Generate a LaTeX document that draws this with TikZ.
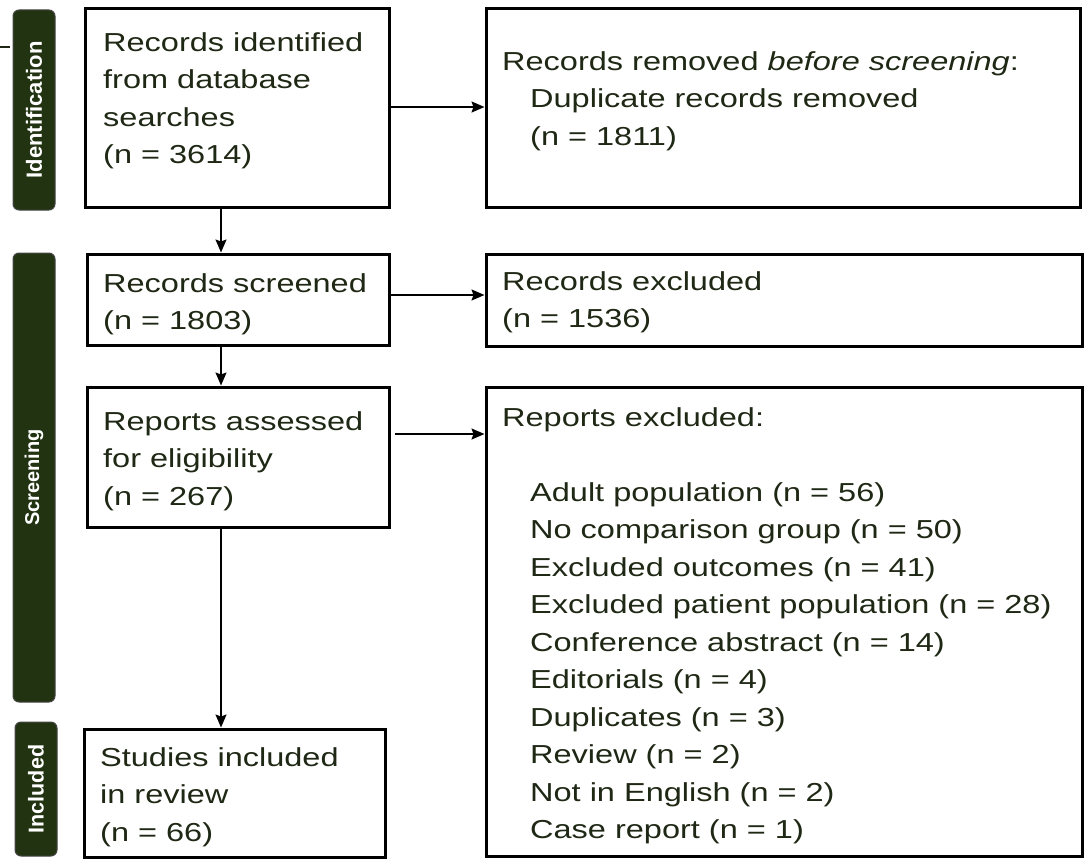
\documentclass[tikz,border=0pt]{standalone}
\usepackage{fontspec}
\setmainfont{Liberation Sans}[FakeStretch=1.25]
\newfontfamily\barfont{Liberation Sans}
\usetikzlibrary{arrows.meta}
\definecolor{txt}{RGB}{30,40,20}
\definecolor{barfill}{RGB}{34,51,17}
\definecolor{barline}{RGB}{70,70,70}
\tikzset{
  box/.style={draw=black, line width=3pt, fill=white, inner sep=0pt},
  boxtext/.style={anchor=north west, inner sep=0pt, align=left, text=txt,
    font=\fontsize{26}{37.5}\selectfont},
  bar/.style={draw=barline, line width=1pt, fill=barfill, rounded corners=6pt, inner sep=0pt},
  barlabel/.style={rotate=90, text=white, inner sep=0pt},
  arr/.style={line width=1.5pt, -{Stealth[length=13pt,width=11pt,inset=2pt]}},
}
\begin{document}
\begin{tikzpicture}[x=1pt,y=-1pt]
\path[use as bounding box] (0,0) rectangle (1084,859);

% phase bars
\node[bar, minimum width=42pt, minimum height=200pt] (barI) at (34,110) {};
\node[barlabel, font=\barfont\bfseries\fontsize{22}{24}\selectfont] (labI) at (barI.center) {Identification};
\node[bar, minimum width=42pt, minimum height=449pt] (barS) at (34,477.5) {};
\node[barlabel, font=\barfont\bfseries\fontsize{20}{22}\selectfont] (labS) at (barS.center) {Screening};
\node[bar, minimum width=42pt, minimum height=134pt] (barC) at (36,789) {};
\node[barlabel, font=\barfont\bfseries\fontsize{21.5}{23}\selectfont] (labC) at (barC.center) {Included};

% small line at top left
\coordinate (tl0) at (0,47);
\coordinate (tl1) at (10,47);
\draw[line width=1.5pt, color=txt] (tl0) -- (tl1);

% boxes
\node[box, minimum width=304pt, minimum height=198pt] (b1) at (237,108) {};
\node[box, minimum width=594pt, minimum height=198pt] (b2) at (783,108) {};
\node[box, minimum width=302pt, minimum height=91pt] (b3) at (238,299.5) {};
\node[box, minimum width=596pt, minimum height=92pt] (b4) at (784,300) {};
\node[box, minimum width=302pt, minimum height=140pt] (b5) at (238,457) {};
\node[box, minimum width=596pt, minimum height=469pt] (b6) at (784,621.5) {};
\node[box, minimum width=301pt, minimum height=128pt] (b7) at (234.5,793) {};

% texts
\node[boxtext] (t1) at (103,26) {\rule{0pt}{25pt}Records identified\\from database\\searches\\(n = 3614)};
\node[boxtext] (t2) at (502,45) {\rule{0pt}{25pt}Records removed \textit{before screening}:\\\hspace*{28pt}Duplicate records removed\\\hspace*{28pt}(n = 1811)};
\node[boxtext] (t3) at (103,267) {\rule{0pt}{25pt}Records screened\\(n = 1803)};
\node[boxtext] (t4) at (502,265) {\rule{0pt}{25pt}Records excluded\\(n = 1536)};
\node[boxtext] (t5) at (103,405) {\rule{0pt}{25pt}Reports assessed\\for eligibility\\(n = 267)};
\node[boxtext] (t6) at (502,401) {\rule{0pt}{25pt}Reports excluded:};
\node[boxtext] (t6b) at (530,476) {\rule{0pt}{25pt}Adult population (n = 56)\\No comparison group (n = 50)\\Excluded outcomes (n = 41)\\Excluded patient population (n = 28)\\Conference abstract (n = 14)\\Editorials (n = 4)\\Duplicates (n = 3)\\Review (n = 2)\\Not in English (n = 2)\\Case report (n = 1)};
\node[boxtext] (t7) at (100,741) {\rule{0pt}{25pt}Studies included\\in review\\(n = 66)};

% connectors
\draw[arr] (b1.east |- 0,107) -- (b2.west |- 0,107);
\draw[arr] (b1.south -| 221,0) -- (b3.north -| 221,0);
\draw[arr] (b3.east |- 0,295) -- (b4.west |- 0,295);
\draw[arr] (b3.south -| 221,0) -- (b5.north -| 221,0);
\draw[arr, shorten <=4pt] (b5.east |- 0,434) -- (b6.west |- 0,434);
\draw[arr] (b5.south -| 221,0) -- (b7.north -| 221,0);
\end{tikzpicture}
\end{document}
